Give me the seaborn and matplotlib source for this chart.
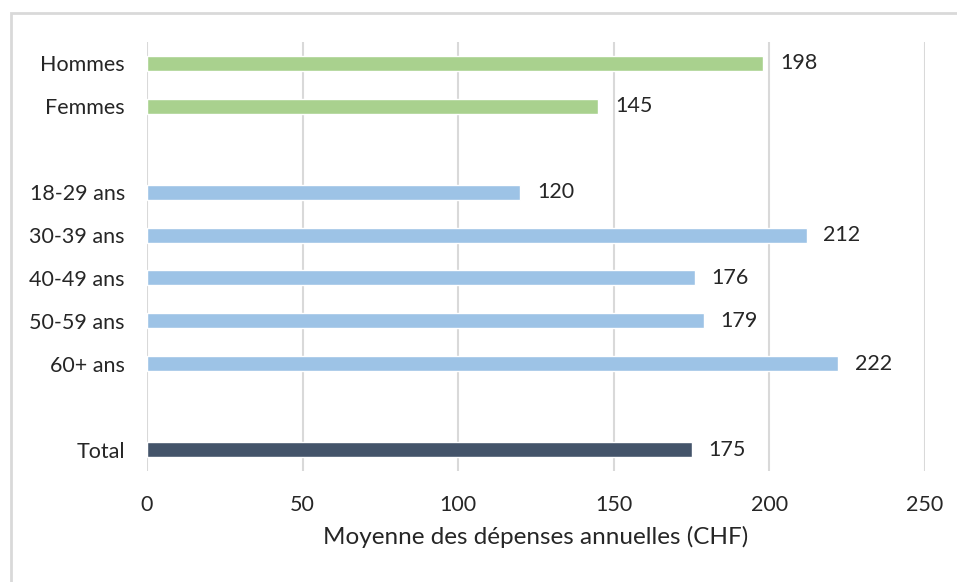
import pandas as pd
import seaborn as sns
import matplotlib.pyplot as plt
from matplotlib.patches import Rectangle

# Data
categories = ["Hommes", "Femmes", "18-29 ans", "30-39 ans", "40-49 ans",
              "50-59 ans", "60+ ans", "Total"]
values = [198, 145, 120, 212, 176, 179, 222, 175]
groups = ["sexe", "sexe", "age", "age", "age", "age", "age", "total"]
# row order with empty spacer rows
row_order = ["Hommes", "Femmes", " ", "18-29 ans", "30-39 ans", "40-49 ans",
             "50-59 ans", "60+ ans", "  ", "Total"]
xticks = [0, 50, 100, 150, 200, 250]

palette = {"sexe": "#A9D18E", "age": "#9DC3E6", "total": "#44546A"}

df = pd.DataFrame({"cat": categories, "val": values, "grp": groups})

sns.set_style("white")
plt.rcParams["font.family"] = ["Lato", "DejaVu Sans"]

fig = plt.figure(figsize=(9.57, 5.82), dpi=100)
ax = fig.add_axes([147 / 957, 1 - 471 / 582, 778 / 957, 429 / 582])

sns.barplot(data=df, y="cat", x="val", hue="grp", order=row_order,
            palette=palette, dodge=False, width=0.35, saturation=1,
            legend=False, ax=ax)

for c in ax.containers:
    ax.bar_label(c, fmt="%d", padding=12, fontsize=15.5, color="#262626")

ax.set_xlim(0, 250)
ax.set_ylim(len(row_order) - 0.5, -0.5)
ax.set_xticks(xticks)
ax.grid(axis="x", color="#D9D9D9", linewidth=1.5)
ax.set_axisbelow(True)
for s in ax.spines.values():
    s.set_visible(False)
ax.tick_params(axis="both", length=0, labelsize=15.5, colors="#262626")
ax.tick_params(axis="y", pad=16)
ax.tick_params(axis="x", pad=17)
ax.set_ylabel("")
ax.set_xlabel("Moyenne des dépenses annuelles (CHF)", fontsize=17.5,
              color="#262626", labelpad=8)

# outer chart border (top and left visible)
fig.patches.append(Rectangle((11 / 957, -0.1), 1.2, 1 - 13 / 582 + 0.1,
                             transform=fig.transFigure, fill=False,
                             edgecolor="#D9D9D9", linewidth=2))

fig.savefig("out.png", dpi=100)
